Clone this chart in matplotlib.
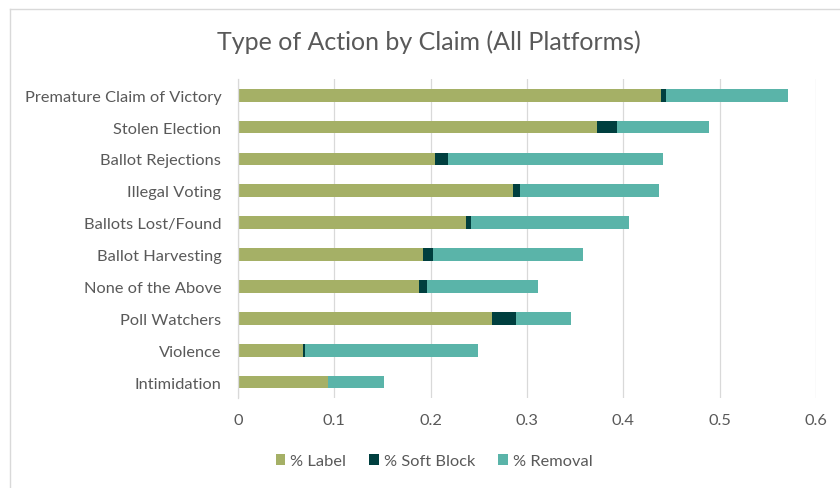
"""
Stacked horizontal bar chart of action type by claim.
"""
import matplotlib
matplotlib.use("Agg")
import matplotlib.pyplot as plt  # type: ignore
from matplotlib.lines import Line2D  # type: ignore
import numpy as np

plt.rcParams["font.family"] = ["Lato", "DejaVu Sans"]

TEXT_COLOUR = "#595959"
GRID_COLOUR = "#d9d9d9"

claims = [
    "Premature Claim of Victory",
    "Stolen Election",
    "Ballot Rejections",
    "Illegal Voting",
    "Ballots Lost/Found",
    "Ballot Harvesting",
    "None of the Above",
    "Poll Watchers",
    "Violence",
    "Intimidation",
]
pct_label = [0.439, 0.373, 0.205, 0.285, 0.237, 0.192, 0.188, 0.264, 0.068, 0.093]
pct_soft_block = [0.005, 0.020, 0.013, 0.008, 0.005, 0.010, 0.008, 0.025, 0.002, 0.0]
pct_removal = [0.127, 0.096, 0.223, 0.144, 0.164, 0.156, 0.115, 0.057, 0.179, 0.059]
x_ticks = [0, 0.1, 0.2, 0.3, 0.4, 0.5, 0.6]

SERIES = [
    ("% Label", pct_label, "#a5b066"),
    ("% Soft Block", pct_soft_block, "#003f3f"),
    ("% Removal", pct_removal, "#5ab4a9"),
]

fig = plt.figure(figsize=(8.4, 4.89), dpi=100)
axes = fig.add_axes([0.2833, 0.184, 0.6881, 0.652])

ypos = np.arange(len(claims))
left = np.zeros(len(claims))
for name, values, colour in SERIES:
    axes.barh(ypos, values, left=left, height=0.4, color=colour, label=name, zorder=3)
    left += np.array(values)

axes.set_ylim(len(claims) - 0.5, -0.5)
axes.set_xlim(0, 0.6)
axes.set_yticks(ypos)
axes.set_yticklabels(claims)
axes.set_xticks(x_ticks)
axes.set_xticklabels([f"{t:g}" for t in x_ticks])
axes.tick_params(axis="both", length=0, labelsize=11.8, colors=TEXT_COLOUR)
axes.tick_params(axis="x", pad=11)
axes.tick_params(axis="y", pad=12)

axes.grid(axis="x", color=GRID_COLOUR, linewidth=0.9, zorder=0)
for side in ["top", "right", "bottom"]:
    axes.spines[side].set_visible(False)
axes.spines["left"].set_color(GRID_COLOUR)
axes.spines["left"].set_linewidth(0.9)
axes.spines["left"].set_zorder(4)

fig.text(0.510, 0.914, "Type of Action by Claim (All Platforms)",
         ha="center", va="center", fontsize=18, color=TEXT_COLOUR)

fig.legend(loc="center", bbox_to_anchor=(0.517, 0.055), ncol=3, frameon=False,
           fontsize=11.8, labelcolor=TEXT_COLOUR, handlelength=0.6,
           handleheight=0.6, handletextpad=0.3, columnspacing=1.4)

# chart border, only the top and left edges fall inside the image
fig.add_artist(Line2D([10 / 840, 10 / 840], [0, 1 - 10 / 489],
                      transform=fig.transFigure, color=GRID_COLOUR, linewidth=1))
fig.add_artist(Line2D([10 / 840, 1], [1 - 10 / 489, 1 - 10 / 489],
                      transform=fig.transFigure, color=GRID_COLOUR, linewidth=1))

plt.savefig("out.png", dpi=100)
plt.close(fig)
